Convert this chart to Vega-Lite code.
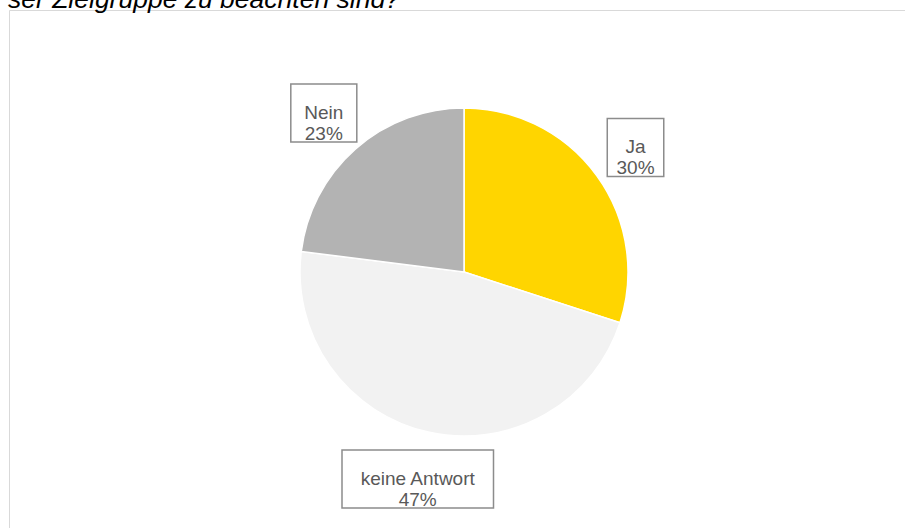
{
  "$schema": "https://vega.github.io/schema/vega-lite/v6.json",
  "width": 896,
  "height": 518,
  "autosize": "none",
  "padding": {"left": 9, "top": 10, "right": 0, "bottom": 0},
  "background": "white",
  "config": {"view": {"stroke": "#d9d9d9", "strokeWidth": 1}},
  "title": {
    "text": "ser Zielgruppe zu beachten sind?",
    "anchor": "start",
    "frame": "group",
    "font": "Liberation Sans",
    "fontSize": 26.5,
    "fontStyle": "italic",
    "fontWeight": "normal",
    "color": "#000000",
    "baseline": "alphabetic",
    "offset": 0,
    "dy": 24,
    "dx": -1
  },
  "data": {
    "values": [
      {"antwort": "Ja", "anteil": 30},
      {"antwort": "keine Antwort", "anteil": 47},
      {"antwort": "Nein", "anteil": 23}
    ]
  },
  "transform": [
    {"window": [{"op": "row_number", "as": "rang"}]},
    {"stack": "anteil", "groupby": [], "sort": [{"field": "rang", "order": "ascending"}], "as": ["a0", "a1"]},
    {"calculate": "(datum.a0 + datum.a1) / 200 * 2 * PI", "as": "mid"},
    {"calculate": "212 * sin(datum.mid)", "as": "lx"},
    {"calculate": "212 * cos(datum.mid)", "as": "ly"},
    {"calculate": "datum.antwort + '\\n' + datum.anteil + '%'", "as": "beschriftung"},
    {"calculate": "9.5 * max(length(datum.antwort), length(datum.anteil + '%')) + 28", "as": "bw"},
    {"calculate": "datum.lx - datum.bw / 2", "as": "bx0"},
    {"calculate": "datum.lx + datum.bw / 2", "as": "bx1"},
    {"calculate": "datum.ly - 29", "as": "by0"},
    {"calculate": "datum.ly + 29", "as": "by1"}
  ],
  "layer": [
    {
      "mark": {"type": "arc", "outerRadius": 164, "stroke": "white", "strokeWidth": 1.5},
      "encoding": {
        "x": {"datum": 0, "type": "quantitative", "scale": {"domain": [-455, 441], "zero": false, "nice": false}, "axis": null},
        "y": {"datum": 0, "type": "quantitative", "scale": {"domain": [-256, 262], "zero": false, "nice": false}, "axis": null},
        "theta": {"field": "a0", "type": "quantitative", "scale": {"domain": [0, 100]}},
        "theta2": {"field": "a1"},
        "color": {
          "field": "antwort",
          "type": "nominal",
          "scale": {"domain": ["Ja", "keine Antwort", "Nein"], "range": ["#FFD500", "#F2F2F2", "#B3B3B3"]},
          "legend": null
        }
      }
    },
    {
      "mark": {"type": "rect", "fill": "white", "stroke": "#8c8c8c", "strokeWidth": 1.5},
      "encoding": {
        "x": {"field": "bx0", "type": "quantitative"},
        "x2": {"field": "bx1"},
        "y": {"field": "by0", "type": "quantitative"},
        "y2": {"field": "by1"}
      }
    },
    {
      "mark": {"type": "text", "lineBreak": "\n", "align": "center", "baseline": "middle", "font": "Liberation Sans", "fontSize": 19, "lineHeight": 21, "color": "#595959"},
      "encoding": {
        "x": {"field": "lx", "type": "quantitative"},
        "y": {"field": "ly", "type": "quantitative"},
        "text": {"field": "beschriftung"}
      }
    }
  ]
}
